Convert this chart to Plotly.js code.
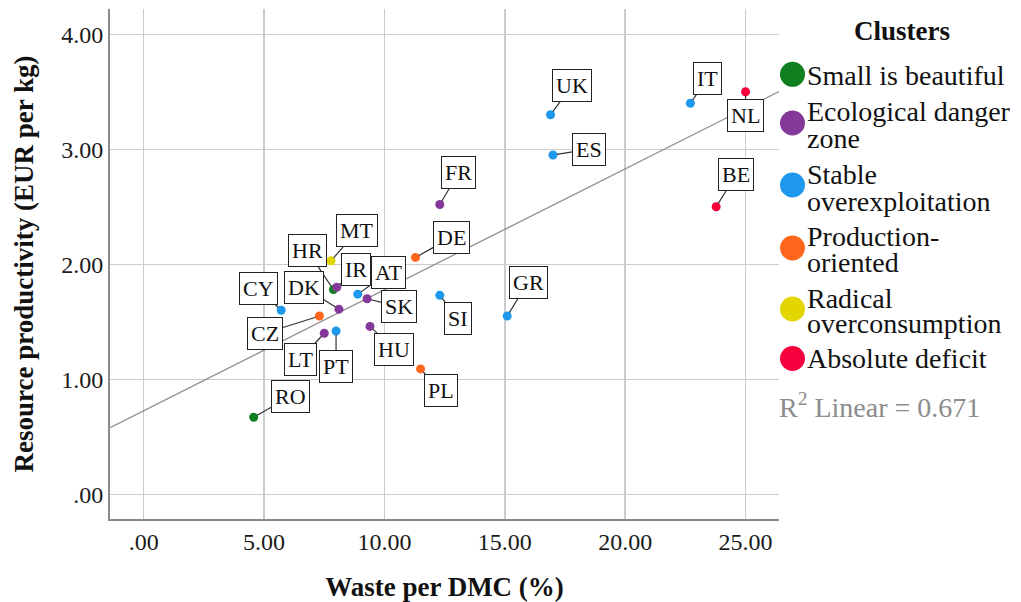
<!DOCTYPE html>
<html>
<head>
<meta charset="utf-8">
<script src="https://cdn.plot.ly/plotly-3.0.1.min.js"></script>
<style>html,body{margin:0;padding:0;background:#fff;}#chart{width:1021px;height:602px;}</style>
</head>
<body>
<div id="chart"></div>
<script>
// ---------- data ----------
const countries    = ['RO','HR','MT','IR','AT','SK','DK','CY','CZ','LT','PT','HU','DE','SI','PL','FR','UK','ES','IT','NL','BE','GR'];
const wasteDMC     = [4.57,7.88,7.78,8.02,8.89,9.28,8.11,5.71,7.30,7.50,7.99,9.40,11.29,12.30,11.50,12.30,16.90,17.00,22.71,25.00,23.78,15.10];
const resourceProd = [0.67,1.78,2.03,1.80,1.74,1.70,1.61,1.60,1.55,1.40,1.42,1.46,2.06,1.73,1.09,2.52,3.30,2.95,3.40,3.50,2.50,1.55];
const clusterOf    = [0,0,4,1,2,1,1,2,3,1,2,1,3,2,3,1,2,2,2,5,5,2];
const clusters     = ['Small is beautiful','Ecological danger zone','Stable overexploitation','Production-oriented','Radical overconsumption','Absolute deficit'];
const clusterLines = [['Small is beautiful'],['Ecological danger','zone'],['Stable','overexploitation'],['Production-','oriented'],['Radical','overconsumption'],['Absolute deficit']];
const rSquaredText = 'R<sup>2</sup> Linear = 0.671';
const xTickVals = [0,5,10,15,20,25];
const xTickText = ['.00','5.00','10.00','15.00','20.00','25.00'];
const yTickVals = [0,1,2,3,4];
const yTickText = ['.00','1.00','2.00','3.00','4.00'];

// ---------- styles / layout constants ----------
const clusterColors = ['#0f7f20','#84399a','#1e98ec','#ff661c','#e3d600','#f5003c'];
const labelOffsets = {
  RO:[37,-21], HR:[-26,-39], MT:[26,-30], IR:[19,-18], AT:[31,-22], SK:[32,8],
  DK:[-35,-22], CY:[-23,-22], CZ:[-54,17], LT:[-24,26], PT:[0,36], HU:[24,23],
  DE:[36,-20], SI:[18,23], PL:[20,22], FR:[19,-32], UK:[21,-29], ES:[36,-6],
  IT:[17,-25], NL:[0,24], BE:[20,-32], GR:[21,-34]
};
const FONT = 'Liberation Serif, Times New Roman, serif';
const W = 1021, H = 602;
const M = {l:110, r:242, t:9, b:83};
const xRange = [-1.40, 26.39];
const yRange = [-0.215, 4.22];
const plotW = W - M.l - M.r, plotH = H - M.t - M.b;
const px2paper = px => (px - M.l) / plotW;
const py2paper = py => (H - M.b - py) / plotH;

// ---------- traces ----------
const traces = [];
// regression line computed from the data
const n = wasteDMC.length;
const mx = wasteDMC.reduce((a,b)=>a+b,0)/n;
const my = resourceProd.reduce((a,b)=>a+b,0)/n;
let sxy = 0, sxx = 0;
for (let i=0;i<n;i++){ sxy += (wasteDMC[i]-mx)*(resourceProd[i]-my); sxx += (wasteDMC[i]-mx)**2; }
const slope = sxy/sxx, intercept = my - slope*mx;
traces.push({
  x: xRange, y: xRange.map(v => intercept + slope*v),
  mode:'lines', type:'scatter', line:{color:'#8f8f8f', width:1.3},
  hoverinfo:'skip', showlegend:false
});
clusters.forEach((name, c) => {
  const idx = countries.map((_,i)=>i).filter(i => clusterOf[i] === c);
  traces.push({
    type:'scatter', mode:'markers', name,
    x: idx.map(i=>wasteDMC[i]), y: idx.map(i=>resourceProd[i]),
    text: idx.map(i=>countries[i]),
    marker:{color:clusterColors[c], size:9},
    showlegend:false
  });
});

// ---------- annotations ----------
const annotations = countries.map((c,i) => ({
  x: wasteDMC[i], y: resourceProd[i], xref:'x', yref:'y',
  text: c, showarrow:true, arrowhead:0, arrowwidth:1.2, arrowcolor:'#333',
  ax: labelOffsets[c][0], ay: labelOffsets[c][1], standoff:4,
  bgcolor:'#ffffff', bordercolor:'#222', borderwidth:1, borderpad:3,
  font:{family:FONT, size:22, color:'#111'}
}));

// custom legend
const shapes = [];
annotations.push({
  x: px2paper(902), y: py2paper(31), xref:'paper', yref:'paper',
  xanchor:'center', yanchor:'middle', showarrow:false,
  text:'<b>Clusters</b>', font:{family:FONT, size:27, color:'#111'}
});
const markerY = [74.3, 123, 185, 248, 309, 358.5];
const lineY = [[75.5],[111.5,138],[175,201.5],[236.5,262],[298,323],[358]];
clusterLines.forEach((lines, c) => {
  shapes.push({
    type:'circle', xref:'paper', yref:'paper',
    xsizemode:'pixel', ysizemode:'pixel',
    xanchor: px2paper(792.5), yanchor: py2paper(markerY[c]),
    x0:-12.5, x1:12.5, y0:-12.5, y1:12.5,
    fillcolor: clusterColors[c], line:{width:0}
  });
  lines.forEach((t, k) => {
    annotations.push({
      x: px2paper(806), y: py2paper(lineY[c][k]), xref:'paper', yref:'paper',
      xanchor:'left', yanchor:'middle', showarrow:false, borderpad:0,
      text: t, font:{family:FONT, size:28, color:'#111'}
    });
  });
});
annotations.push({
  x: px2paper(778), y: py2paper(405.5), xref:'paper', yref:'paper',
  xanchor:'left', yanchor:'middle', showarrow:false, borderpad:0,
  text: rSquaredText, font:{family:FONT, size:28, color:'#8c8c8c'}
});

const axisCommon = {
  showgrid:true, gridcolor:'#cccccc', gridwidth:1.5, zeroline:false,
  showline:true, linecolor:'#8a8a8a', linewidth:2, ticks:'',
  tickfont:{family:FONT, size:24, color:'#1a1a1a'}, fixedrange:true
};
const layout = {
  width:W, height:H, margin:{l:M.l, r:M.r, t:M.t, b:M.b, pad:0},
  paper_bgcolor:'#ffffff', plot_bgcolor:'#ffffff', showlegend:false,
  font:{family:FONT, color:'#111'},
  xaxis: Object.assign({}, axisCommon, {
    range:xRange, tickvals:xTickVals, ticktext:xTickText,
    title:{text:'<b>Waste per DMC (%)</b>', font:{family:FONT, size:27, color:'#111'}, standoff:23}
  }),
  yaxis: Object.assign({}, axisCommon, {
    range:yRange, tickvals:yTickVals, ticktext:yTickText,
    title:{text:'<b>Resource productivity (EUR per kg)</b>', font:{family:FONT, size:27, color:'#111'}, standoff:20}
  }),
  annotations, shapes
};
Plotly.newPlot('chart', traces, layout, {displayModeBar:false, staticPlot:true});
</script>
</body>
</html>
